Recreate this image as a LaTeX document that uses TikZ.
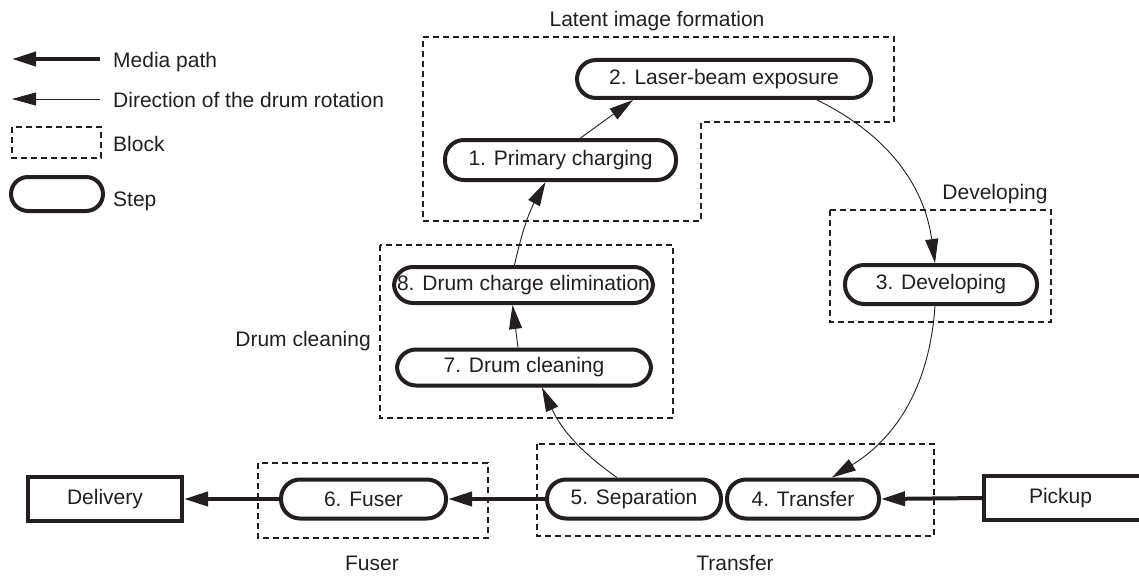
\documentclass[tikz,border=0pt]{standalone}
\usepackage{fontspec}
\setmainfont{Liberation Sans}
\usetikzlibrary{arrows.meta}
\definecolor{ink}{RGB}{35,31,32}
\begin{document}
\begin{tikzpicture}[x=1pt,y=-1pt,
  every node/.style={font=\fontsize{21pt}{25pt}\selectfont, text=ink},
  stepnode/.style={draw=ink, line width=4pt, rounded corners=19pt, minimum height=39pt, inner sep=0pt},
  boxnode/.style={draw=ink, line width=4pt, minimum height=44pt, inner sep=0pt},
  blockline/.style={draw=ink, line width=1.4pt, dash pattern=on 6pt off 4pt},
  media/.style={draw=ink, line width=4pt, -{Triangle[length=24pt,width=14pt]}},
  drum/.style={draw=ink, line width=0.9pt, -{Triangle[length=24pt,width=13pt]}},
  lbl/.style={anchor=base, inner sep=0pt}]
\useasboundingbox (0,0) rectangle (1139,575);

% blocks
\draw[blockline] (423,37) -- (894,37) -- (894,122) -- (701,122) -- (701,221) -- (423,221) -- cycle;
\draw[blockline] (830,210) rectangle (1051,322);
\draw[blockline] (380,245) rectangle (673,418);
\draw[blockline] (537,444) rectangle (934,536);
\draw[blockline] (258,463) rectangle (488,538);

% block labels
\node[lbl] (lLatent) at (657,27) {Latent image formation};
\node[lbl] (lDev) at (995,199) {Developing};
\node[lbl, anchor=base east] (lClean) at (371,346) {Drum cleaning};
\node[lbl] (lTransfer) at (735,570) {Transfer};
\node[lbl] (lFuser) at (372,570) {Fuser};

% steps
\node[stepnode, minimum width=231pt, minimum height=40pt] (n1) at (560.5,160) {1. Primary charging};
\node[stepnode, minimum width=294pt, minimum height=38pt] (n2) at (724,79) {2. Laser-beam exposure};
\node[stepnode, minimum width=192pt] (n3) at (941,284.5) {3. Developing};
\node[stepnode, minimum width=152pt] (n4) at (803,499) {4. Transfer};
\node[stepnode, minimum width=174pt] (n5) at (634,499) {5. Separation};
\node[stepnode, minimum width=165pt] (n6) at (363.5,499) {6. Fuser};
\node[stepnode, minimum width=254pt, minimum height=36pt] (n7) at (524,367.5) {7. Drum cleaning};
\node[stepnode, minimum width=259pt, minimum height=36pt] (n8) at (523.5,285) {8. Drum charge elimination};

% end boxes
\node[boxnode, minimum width=154pt] (delivery) at (105,499) {Delivery};
\node[boxnode, anchor=west, text width=130pt, align=left, inner xsep=45pt] (pickup) at (982,498) {Pickup};

% media path
\draw[media] (pickup.west) -- (n4.east);
\draw[media] (n5.west) -- (n6.east);
\draw[media] (n6.west) -- (delivery.east);

% drum rotation
\draw[drum] ([xshift=20pt]n1.north) -- ([xshift=-91pt]n2.south);
\draw[drum] ([xshift=93pt]n2.south) to[bend left=28] ([xshift=-6pt]n3.north);
\draw[drum] ([xshift=-6pt]n3.south) to[bend left=27] ([xshift=29pt]n4.north);
\draw[drum] ([xshift=-17pt]n5.north) to[bend left=15] ([xshift=18pt]n7.south);
\draw[drum] ([xshift=-6pt]n7.north) -- ([xshift=-11pt]n8.south);
\draw[drum] ([xshift=-9pt]n8.north) to[bend left=8] ([xshift=-15pt]n1.south);

% legend
\coordinate (lg1a) at (100,59);
\coordinate (lg1b) at (12,59);
\draw[media] (lg1a) -- (lg1b);
\node[lbl, anchor=base west] (tMedia) at (113,68) {Media path};
\coordinate (lg2a) at (100,99);
\coordinate (lg2b) at (12,99);
\draw[drum] (lg2a) -- (lg2b);
\node[lbl, anchor=base west] (tDrum) at (113,108) {Direction of the drum rotation};
\draw[blockline] (12,127) rectangle (101,158);
\node[lbl, anchor=base west] (tBlock) at (113,151) {Block};
\node[stepnode, minimum width=92pt, minimum height=34pt, rounded corners=17pt] (lgstep) at (57,194) {};
\node[lbl, anchor=base west] (tStep) at (113,206) {Step};
\end{tikzpicture}
\end{document}
